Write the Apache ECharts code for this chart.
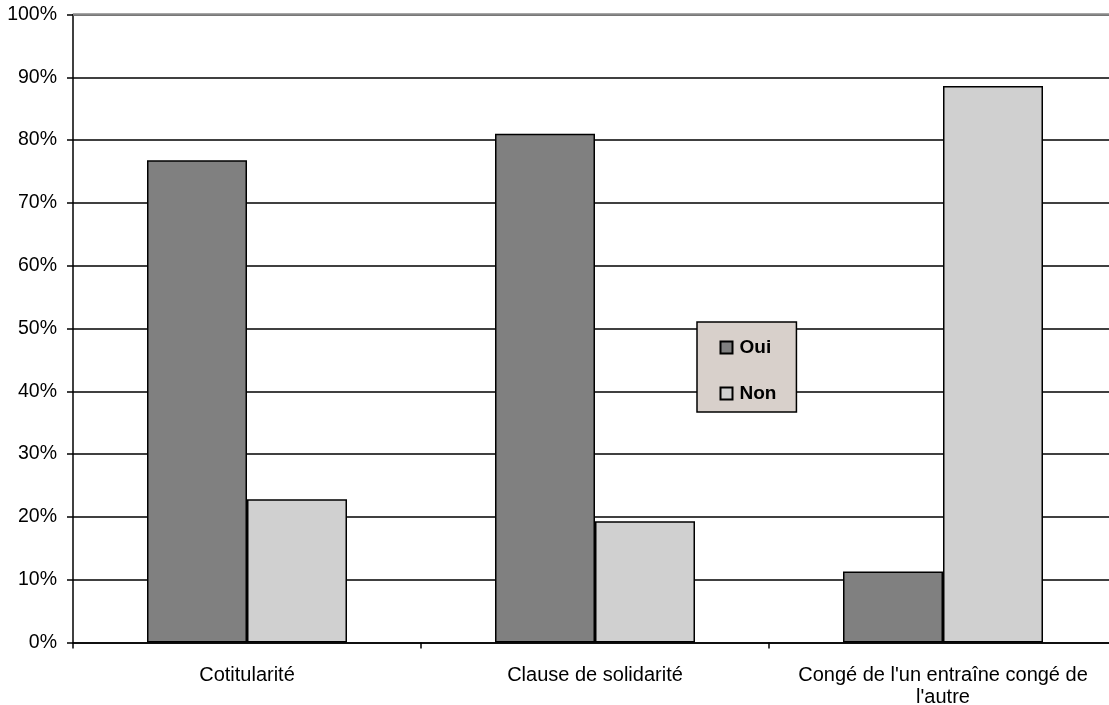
<!DOCTYPE html>
<html>
<head>
<meta charset="utf-8">
<script src="https://cdn.jsdelivr.net/npm/echarts@6/dist/echarts.min.js"></script>
<style>
html,body{margin:0;padding:0;background:#fff;}
#chart{width:1109px;height:705px;}
</style>
</head>
<body>
<div id="chart"></div>
<script>
// Survey answers per clause (share of respondents)
const categories = ['Cotitularité', 'Clause de solidarité', "Congé de l'un entraîne congé de\nl'autre"];
const oui = [0.768, 0.81, 0.113];
const non = [0.228, 0.193, 0.886];
const seriesNames = ['Oui', 'Non'];

const chart = echarts.init(document.getElementById('chart'), null, {renderer: 'canvas'});
const font = 'Arial, "Liberation Sans", sans-serif';

chart.setOption({
  animation: false,
  // plot area runs slightly past the right edge of the canvas
  grid: {left: 73, width: 1044, top: 14.5, bottom: 62.5, containLabel: false, outerBoundsMode: 'none'},
  legend: {
    orient: 'vertical',
    left: 697,
    top: 322,
    padding: [16, 20, 9, 22.5],
    backgroundColor: '#d8d0cb',
    borderColor: '#000',
    borderWidth: 1.5,
    borderRadius: 0,
    itemWidth: 12,
    itemHeight: 12,
    itemGap: 27,
    icon: 'rect',
    textStyle: {fontFamily: font, fontSize: 19, lineHeight: 19, fontWeight: 'bold', color: '#000', padding: [0, 0, 0, 2]},
    data: seriesNames
  },
  xAxis: {
    type: 'category',
    data: categories,
    axisLine: {lineStyle: {color: '#000', width: 1.5}},
    axisTick: {show: true, length: 6, lineStyle: {color: '#000', width: 1.5}},
    axisLabel: {fontFamily: font, fontSize: 20, color: '#000', margin: 22, lineHeight: 22, interval: 0}
  },
  yAxis: {
    type: 'value',
    min: 0,
    max: 1,
    interval: 0.1,
    axisLine: {show: true, lineStyle: {color: '#000', width: 1.5}},
    axisTick: {show: true, length: 6, lineStyle: {color: '#000', width: 1.5}},
    axisLabel: {fontFamily: font, fontSize: 19.5, color: '#000', margin: 16,
      formatter: v => Math.round(v * 100) + '%'},
    splitLine: {show: true, lineStyle: {color: '#000', width: 1.5}}
  },
  series: [
    {
      name: seriesNames[0], type: 'bar', data: oui,
      barWidth: 100, barGap: '0%',
      itemStyle: {color: '#808080', borderColor: '#000', borderWidth: 1.5},
      // grey frame line along the top of the plot area
      markLine: {
        silent: true, symbol: 'none', label: {show: false},
        lineStyle: {color: '#888', width: 2.5, type: 'solid'},
        data: [{yAxis: 1}]
      }
    },
    {
      name: seriesNames[1], type: 'bar', data: non,
      barWidth: 100, barGap: '0%',
      itemStyle: {color: '#d0d0d0', borderColor: '#000', borderWidth: 1.5}
    }
  ]
});
</script>
</body>
</html>
